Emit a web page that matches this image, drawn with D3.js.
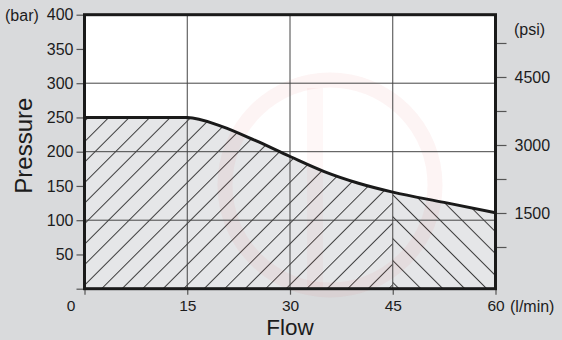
<!DOCTYPE html>
<html>
<head>
<meta charset="utf-8">
<script src="https://cdn.jsdelivr.net/npm/d3@7/dist/d3.min.js"></script>
<style>
  html, body { margin: 0; padding: 0; background: #d9dadc; }
  svg { display: block; font-family: "Liberation Sans", Arial, Helvetica, sans-serif; }
</style>
</head>
<body>
<svg id="chart" width="562" height="340"></svg>
<script>
// Pump performance envelope: pressure vs flow
const flowTicks = [0, 15, 30, 45, 60];
const barTicks = [50, 100, 150, 200, 250, 300, 350, 400];
const barGrid = [100, 200, 300];
const psiTicks = [750, 1500, 2250, 3000, 3750, 4500, 5250];
const psiLabels = [1500, 3000, 4500];
const curveFlow = [0, 15, 20, 25, 30, 35, 40, 45, 52.5, 60];
const curveBar = [250, 250, 237, 216, 193, 171, 154, 141, 126, 111];
const hatchSplit = 45;

const svg = d3.select("#chart");
const W = 562, H = 340;
const margin = { left: 84.5, right: 66.5, top: 14.7, bottom: 51.3 };
const x = d3.scaleLinear().domain([0, 60]).range([margin.left, W - margin.right]);
const y = d3.scaleLinear().domain([0, 400]).range([H - margin.bottom, margin.top]);
// psi axis on the right shares the plot height
const yPsi = d3.scaleLinear().domain([-170, 5874]).range([H - margin.bottom, margin.top]);

const pts = curveFlow.map((f, i) => [f, curveBar[i]]);

// Background and plot area
svg.append("rect").attr("width", W).attr("height", H).attr("fill", "#d9dadc");
svg.append("rect")
  .attr("x", x(0)).attr("y", y(400))
  .attr("width", x(60) - x(0)).attr("height", y(0) - y(400))
  .attr("fill", "#ffffff");

// Hatch patterns
const defs = svg.append("defs");
function hatch(id, angle, gap) {
  const p = defs.append("pattern")
    .attr("id", id).attr("patternUnits", "userSpaceOnUse")
    .attr("width", gap).attr("height", gap)
    .attr("patternTransform", `rotate(${angle})`);
  p.append("rect").attr("width", gap).attr("height", gap).attr("fill", "#e5e6e8");
  p.append("line").attr("x1", 0.5).attr("y1", 0).attr("x2", 0.5).attr("y2", gap)
    .attr("stroke", "#2a2a2a").attr("stroke-width", 0.9);
}
hatch("hatchFwd", 45, 14.5);
hatch("hatchBack", -45, 15.5);

const area = d3.area()
  .x(d => x(d[0])).y0(y(0)).y1(d => y(d[1]))
  .curve(d3.curveMonotoneX);

defs.append("clipPath").attr("id", "clipLeft").append("rect")
  .attr("x", x(0)).attr("y", y(400)).attr("width", x(hatchSplit) - x(0)).attr("height", y(0) - y(400));
defs.append("clipPath").attr("id", "clipRight").append("rect")
  .attr("x", x(hatchSplit)).attr("y", y(400)).attr("width", x(60) - x(hatchSplit)).attr("height", y(0) - y(400));

svg.append("path").datum(pts).attr("d", area)
  .attr("fill", "url(#hatchFwd)").attr("clip-path", "url(#clipLeft)");
svg.append("path").datum(pts).attr("d", area)
  .attr("fill", "url(#hatchBack)").attr("clip-path", "url(#clipRight)");

// Faint watermark emblem behind the content
const wm = svg.append("g").attr("pointer-events", "none");
wm.append("circle").attr("cx", 330).attr("cy", 185).attr("r", 105)
  .attr("fill", "none").attr("stroke", "rgba(225,60,60,0.06)").attr("stroke-width", 15);
wm.append("rect").attr("x", 307).attr("y", 88).attr("width", 16).attr("height", 200)
  .attr("fill", "rgba(225,60,60,0.045)");

// Grid
const grid = svg.append("g").attr("stroke", "#444").attr("stroke-width", 1);
grid.selectAll("line.v").data(flowTicks.slice(1, -1)).join("line")
  .attr("x1", d => x(d)).attr("x2", d => x(d))
  .attr("y1", y(400)).attr("y2", y(0));
grid.selectAll("line.h").data(barGrid).join("line")
  .attr("x1", x(0)).attr("x2", x(60))
  .attr("y1", d => y(d)).attr("y2", d => y(d));

// Envelope curve
svg.append("path").datum(pts)
  .attr("d", d3.line().x(d => x(d[0])).y(d => y(d[1])).curve(d3.curveMonotoneX))
  .attr("fill", "none").attr("stroke", "#1a1a1a").attr("stroke-width", 3);

// Axes
const tickColor = "#555";
const textColor = "#1c1c1c";
function styleAxis(g, size) {
  g.select(".domain").remove();
  g.selectAll(".tick line").attr("stroke", tickColor).attr("stroke-width", 1.2);
  g.selectAll(".tick text").attr("fill", textColor).attr("font-size", size);
}
svg.append("g").attr("transform", `translate(${x(0)},0)`)
  .call(d3.axisLeft(y).tickValues([0, ...barTicks]).tickSize(8).tickPadding(3)
    .tickFormat(d => d === 0 ? "" : d))
  .call(styleAxis, 16);

svg.append("g").attr("transform", `translate(0,${y(0)})`)
  .call(d3.axisBottom(x).tickValues(flowTicks).tickSize(6).tickPadding(5))
  .call(styleAxis, 15.5)
  .call(g => g.selectAll(".tick text").filter(d => d === 0).attr("dx", -14));

svg.append("g").attr("transform", `translate(${x(60)},0)`)
  .call(d3.axisRight(yPsi).tickValues(psiTicks).tickSize(11).tickPadding(8)
    .tickFormat(d => psiLabels.includes(d) ? d : ""))
  .call(styleAxis, 16);

// Frame
svg.append("rect")
  .attr("x", x(0)).attr("y", y(400))
  .attr("width", x(60) - x(0)).attr("height", y(0) - y(400))
  .attr("fill", "none").attr("stroke", "#1a1a1a").attr("stroke-width", 3);

// Unit labels
svg.append("text").attr("x", 5).attr("y", 21).attr("font-size", 16).attr("fill", textColor).text("(bar)");
svg.append("text").attr("x", 514).attr("y", 35).attr("font-size", 16).attr("fill", textColor).text("(psi)");
svg.append("text").attr("x", 510).attr("y", 312).attr("font-size", 16).attr("fill", textColor).text("(l/min)");

// Axis titles
svg.append("text")
  .attr("transform", `translate(32,${(y(0) + y(400)) / 2 - 6}) rotate(-90)`)
  .attr("text-anchor", "middle").attr("font-size", 24).attr("fill", textColor).text("Pressure");
svg.append("text").attr("x", x(30)).attr("y", 334.8)
  .attr("text-anchor", "middle").attr("font-size", 22.5).attr("fill", textColor).text("Flow");
</script>
</body>
</html>
